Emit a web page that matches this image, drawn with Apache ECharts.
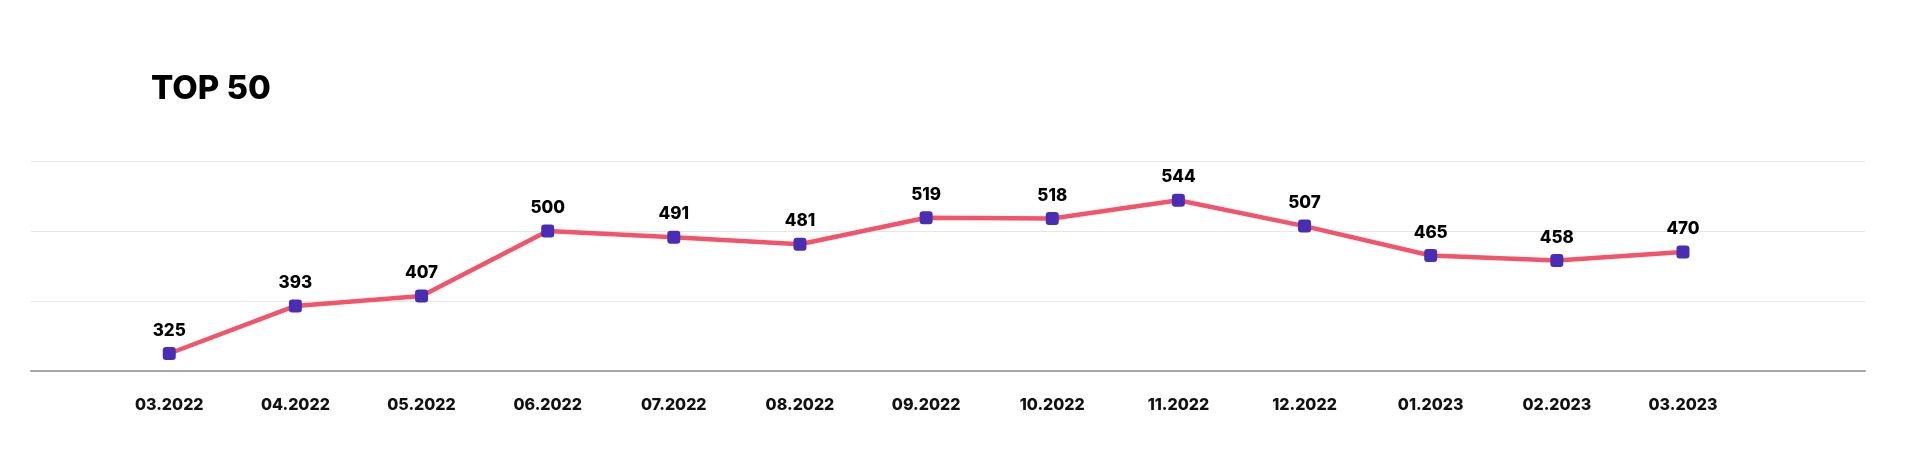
<!DOCTYPE html>
<html>
<head>
<meta charset="utf-8">
<script src="https://cdn.jsdelivr.net/npm/echarts@6/dist/echarts.min.js"></script>
<style>
  html, body { margin: 0; padding: 0; background: #fff; }
  #chart { width: 1920px; height: 471px; }
</style>
</head>
<body>
<div id="chart"></div>
<script>
const categories = ['03.2022', '04.2022', '05.2022', '06.2022', '07.2022', '08.2022', '09.2022',
  '10.2022', '11.2022', '12.2022', '01.2023', '02.2023', '03.2023'];
const values = [325, 393, 407, 500, 491, 481, 519, 518, 544, 507, 465, 458, 470];
const yMin = 300, yMax = 600, yStep = 100;

const chart = echarts.init(document.getElementById('chart'));

const option = {
  backgroundColor: '#fff',
  title: {
    text: 'TOP 50',
    left: 146,
    top: 68,
    textStyle: {
      fontFamily: 'Inter',
      fontWeight: 800,
      fontSize: 33,
      color: '#000'
    }
  },
  grid: {
    left: 31,
    right: 55,
    top: 161,
    bottom: 100
  },
  xAxis: {
    type: 'value',
    // categories sit at 0..12, the grid runs a bit past them on both sides
    min: -1.096,
    max: 13.443,
    splitLine: { show: false },
    axisTick: { show: false },
    axisLine: { show: true, lineStyle: { color: '#a8a8a8', width: 2 } },
    axisLabel: {
      customValues: categories.map((c, i) => i),
      formatter: v => categories[Math.round(v)],
      margin: 26,
      fontFamily: 'Inter',
      fontWeight: 800,
      fontSize: 16,
      color: '#111'
    }
  },
  yAxis: {
    type: 'value',
    min: yMin,
    max: yMax,
    interval: yStep,
    axisLine: { show: false },
    axisTick: { show: false },
    axisLabel: { show: false },
    splitLine: { lineStyle: { color: '#e6e6e6', width: 1 } }
  },
  series: [
    {
      type: 'line',
      data: values.map((v, i) => [i, v]),
      symbol: 'roundRect',
      symbolSize: 13,
      itemStyle: { color: '#4a2db5' },
      lineStyle: { color: '#f4546a', width: 4.5 },
      label: {
        show: true,
        position: 'top',
        distance: 8,
        formatter: p => p.value[1],
        fontFamily: 'Inter',
        fontWeight: 800,
        fontSize: 17,
        color: '#000'
      },
      z: 3
    }
  ]
};

chart.setOption(option);
</script>
</body>
</html>
